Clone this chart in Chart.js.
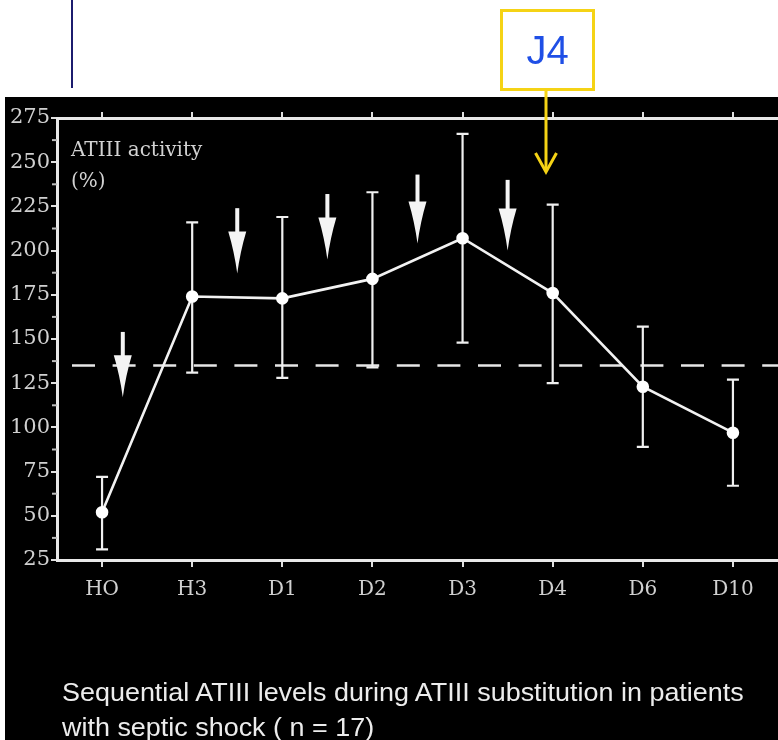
<!DOCTYPE html>
<html><head><meta charset="utf-8">
<script src="https://cdn.jsdelivr.net/npm/chart.js@4.4.0/dist/chart.umd.min.js"></script>
<style>
html,body{margin:0;padding:0;background:#fff;width:778px;height:740px;overflow:hidden;}
#bg{position:absolute;left:5px;top:97px;width:773px;height:643px;background:#000;}
#wrap{position:absolute;left:0;top:0;width:778px;height:740px;}
#navy{position:absolute;left:71px;top:0;width:2px;height:88px;background:#1c1c6e;}
#j4{position:absolute;left:500px;top:9px;width:89px;height:76px;border:3px solid #f5d315;font-family:"Liberation Sans",Arial,sans-serif;font-size:40px;color:#1f4fe6;text-align:center;line-height:76px;}
#ylab{position:absolute;left:71px;top:134px;color:#d2d2d2;font-family:"DejaVu Serif",serif;font-size:20px;line-height:31px;}
#caption{position:absolute;left:62px;top:675px;color:#ececec;font-family:"Liberation Sans",Arial,sans-serif;font-size:25px;line-height:35px;white-space:nowrap;display:inline-block;transform-origin:0 0;}
svg{position:absolute;left:0;top:0;}
</style></head>
<body>
<div id="bg"></div>
<div id="navy"></div>
<div id="wrap"><canvas id="c" width="778" height="740"></canvas></div>
<div id="ylab">ATIII activity<br>(%)</div>
<div id="j4">J4</div>
<svg width="778" height="200"><g stroke="#f5d315" stroke-width="3" fill="none"><line x1="546" y1="91" x2="546" y2="171"/><polyline points="535.5,153 546,172 556.5,153"/></g></svg>
<div id="caption">Sequential ATIII levels during ATIII substitution in patients<br>with septic shock ( n = 17)</div>
<script>
const categories = ['HO','H3','D1','D2','D3','D4','D6','D10'];
const meanValues = [52,174,173,184,207,176,123,97];
const errLow  = [31,131,128,134,148,125,89,67];
const errHigh = [72,216,219,233,266,226,157,127];
const referenceLevel = 135;
const yTickValues = [25,50,75,100,125,150,175,200,225,250,275];
const yMinorTicks = [37.5,62.5,87.5,112.5,137.5,162.5,187.5,212.5,237.5,262.5];
const doseArrowPos = [0.23,1.5,2.5,3.5,4.5];
const doseArrowTop = [154,224,232,243,240];
const doseArrowTip = [117,187,195,204,200];

const overlayPlugin = {
  id:'overlays',
  beforeDatasetsDraw(chart){
    const ctx = chart.ctx, x = chart.scales.x, y = chart.scales.y, ca = chart.chartArea;
    ctx.save();
    ctx.strokeStyle='#bdbdbd'; ctx.lineWidth=2;
    yMinorTicks.forEach(v=>{const py=y.getPixelForValue(v); ctx.beginPath(); ctx.moveTo(ca.left-5,py); ctx.lineTo(ca.left,py); ctx.stroke();});
    const ry = y.getPixelForValue(referenceLevel);
    ctx.setLineDash([23,17.6]); ctx.lineWidth=2.5; ctx.strokeStyle='#e6e6e6';
    ctx.beginPath(); ctx.moveTo(ca.left+15, ry); ctx.lineTo(ca.right, ry); ctx.stroke();
    ctx.setLineDash([]);
    ctx.strokeStyle='#f0f0f0'; ctx.lineWidth=2.2;
    categories.forEach((c,i)=>{
      const px=x.getPixelForValue(i), yl=y.getPixelForValue(errLow[i]), yh=y.getPixelForValue(errHigh[i]);
      ctx.beginPath(); ctx.moveTo(px,yl); ctx.lineTo(px,yh);
      ctx.moveTo(px-6,yl); ctx.lineTo(px+6,yl); ctx.moveTo(px-6,yh); ctx.lineTo(px+6,yh); ctx.stroke();
    });
    ctx.fillStyle='#f4f4f4';
    doseArrowPos.forEach((p,i)=>{
      const px=x.getPixelForValue(p), yt=y.getPixelForValue(doseArrowTop[i]), yp=y.getPixelForValue(doseArrowTip[i]);
      const hs = yp-42;
      ctx.fillRect(px-2, yt, 4, hs-yt+1);
      ctx.beginPath(); ctx.moveTo(px-9,hs); ctx.quadraticCurveTo(px-3,hs+20,px,yp); ctx.quadraticCurveTo(px+3,hs+20,px+9,hs); ctx.closePath(); ctx.fill();
    });
    ctx.restore();
  }
};

new Chart(document.getElementById('c'), {
  type:'line',
  data:{labels:categories, datasets:[{data:meanValues, borderColor:'#f2f2f2', borderWidth:2.6, pointRadius:5, pointBackgroundColor:'#ffffff', pointBorderColor:'#ffffff', tension:0, clip:false}]},
  options:{
    responsive:false, animation:false, devicePixelRatio:1,
    layout:{padding:0, autoPadding:false},
    plugins:{legend:{display:false}, tooltip:{enabled:false}},
    scales:{
      x:{type:'category', position:'bottom', offset:true,
         grid:{display:true, drawOnChartArea:false, color:'#e0e0e0', tickLength:7, lineWidth:2},
         border:{display:true, color:'#e8e8e8', width:3},
         ticks:{color:'#d0d0d0', font:{family:'DejaVu Serif', size:20}, padding:11, autoSkip:false, maxRotation:0},
         afterFit(s){s.height=180;}},
      xTop:{type:'category', position:'top', offset:true, labels:categories,
         grid:{display:true, drawOnChartArea:false, color:'#e0e0e0', tickLength:6, lineWidth:2},
         border:{display:true, color:'#e8e8e8', width:3},
         ticks:{display:false},
         afterFit(s){s.height=118;}},
      y:{type:'linear', min:25, max:275,
         afterBuildTicks(s){s.ticks = yTickValues.map(v=>({value:v}));},
         ticks:{color:'#d0d0d0', font:{family:'DejaVu Serif', size:21}, padding:1},
         grid:{display:true, drawOnChartArea:false, tickLength:6, color:'#e0e0e0', lineWidth:2},
         border:{display:true, color:'#e8e8e8', width:3},
         afterFit(s){s.width=57;}}
    }
  },
  plugins:[overlayPlugin]
});

const cap = document.getElementById('caption');
const w = cap.offsetWidth;
cap.style.transform = 'scaleX(' + (682 / w) + ')';
</script>
</body></html>
